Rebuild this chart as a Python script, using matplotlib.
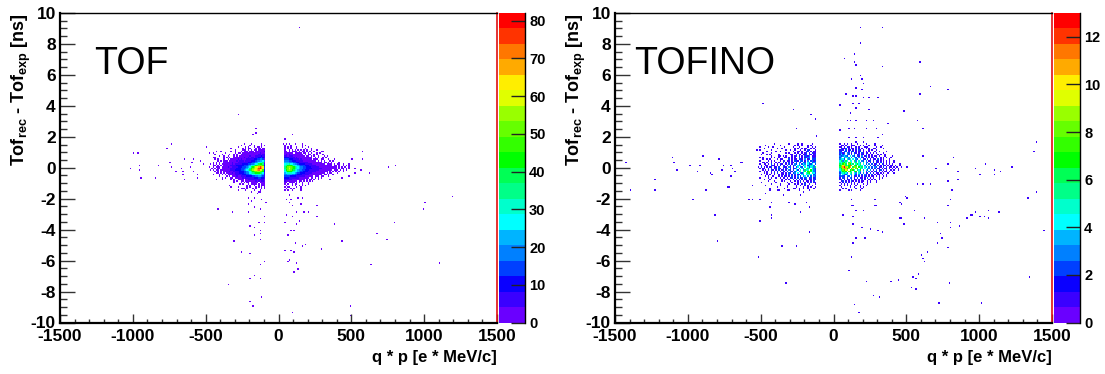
"""
TOF and TOFINO time difference versus charge * momentum, ROOT style colz panels.
Cell values are read off the picture in units of one colour band (1-20).
"""

import numpy as np
import matplotlib
matplotlib.use('Agg')
import matplotlib.pyplot as plt
from matplotlib.colors import ListedColormap, BoundaryNorm
from matplotlib.ticker import MultipleLocator

plt.rcParams['font.family'] = ['Liberation Sans', 'DejaVu Sans']
plt.rcParams['mathtext.fontset'] = 'custom'
plt.rcParams['mathtext.bf'] = 'Liberation Sans:bold'
plt.rcParams['mathtext.rm'] = 'Liberation Sans:bold'
plt.rcParams['axes.unicode_minus'] = False

# =============================================================================
# Data
# =============================================================================
palette = ['#6a00ff', '#3a00ff', '#0a00ff', '#0040ff', '#0080ff',
           '#00b4ff', '#00ffff', '#00ffcc', '#00ff88', '#00ff55',
           '#00ff00', '#33ff00', '#66ff00', '#99ff00', '#e0ff00',
           '#ffee00', '#ffaa00', '#ff7700', '#ff3300', '#ff0000']

core_t = [1.5, 1.4, 1.3, 1.2, 1.1, 1.0, 0.9, 0.8, 0.7, 0.6, 0.5, 0.4, 0.3, 0.2, 0.1, 0.0,
          -0.1, -0.2, -0.3, -0.4, -0.5, -0.6, -0.7, -0.8, -0.9, -1.0, -1.1, -1.2,
          -1.3, -1.4, -1.5]

# rows are right aligned on the inner edge of the lobe for q*p < 0,
# left aligned on it for q*p > 0. '.' = empty, digits in base 36 = colour band
tof_left_edge = -90
tof_left = [
    '..............................1......1..',
    '.......................1.....1..1....1.1',
    '.....................1....1.1...1.11.1..',
    '................1.......1.1.11...1.11.11',
    '...................1....111.1.1.11.11111',
    '.........1......1..1...1.111.111.1111112',
    '.....1.......1......1.11.1111111111112111',
    '...1....1....1..1.1..11111111111122122',
    '.......1..1..1...1.1.111111121112222322',
    '....11.....1.1.1..1111111211212212233432',
    '....1.1...1..1.111112121112222233445541',
    '......1.1.111.1111121222122223334556675',
    '...1.1.1..11111121112222222333445678891',
    '.1.1.1.1.1111111212222233334455678abb92',
    '...11.1.1.1111122223333344456789bcdddc3',
    '1..1.111.11112112222333444567abdfghjhg4',
    '..1.1.11.11111122223334445679bdefhjkig4',
    '.1.1.11.11111112223333445678acefghigfc3',
    '...1.1.1.11112112222333445679bcdeedcb3',
    '....11.1.1.1111212223334455789abbba972',
    '..1...1.1.1.11111222223334456778887662',
    '.....1....1.1.11121122223333445566542',
    '.......1.1...11.111112122222233344332',
    '........1.....1.1..1111.11222222222221',
    '................1.1..11.11111112121221',
    '................1....1.1.11.11111.1111',
    '.....................1.1...1.1111.1.111',
    '..........................1.1..1..1.111',
    '....................1.....1.1...1.1.1.1',
    '........................1.1...1.1...1.1',
    '.........................1.....1...1...',
]
tof_right_edge = 40
tof_right = [
    '.1.....1....1',
    '1...1.......1.1',
    '1.1.1...1...1...1',
    '1.1.1...1.....1...1',
    '1..1.1.1.1.1.1.1..1...1',
    '11.1.1111.1.11.1.1..1....1',
    '111111.11111.11.1.1...1.1',
    '1212111111111.1.11..1.1...1',
    '22122211111111.11.1.1..1...1.1',
    '3332222121111111111..1.1..1.1',
    '4443332222121111111.111..11...1',
    '5554433322222111111111.1.1.1...1.1',
    '66655544332222221111111111.11.1.1....1',
    '7889776554333322222111111111.1111.1.11..1...1',
    '89bbba877654443332222211111111111.11.1..1.1.1',
    '9bdedcb98765544333222222111111111111.1.1.1..1',
    '9cdfdcb98765544333322222221111111111.1.11.1.1...1',
    '8bdedba87655443332222222111111111.111.1.1.1',
    '79bbb9877654433322222211111111.1.1.1.1..1',
    '6788877654433322222111111111.1.11...1',
    '55666554433322222111111111.11.1..1',
    '44443333222222111111.111.11...1',
    '33322222221111111.11.1.1.1',
    '22222111111111.1.11.1..1',
    '211111111.11.1.1.1.1',
    '11.1111.1.1.1...1',
    '1.1..1.11...1...1',
    '.1...1.1..1.1.1',
    '1.1.....1..1',
    '.1..1.1....1',
    '1....1.....1',
]
tofino_left_edge = -120
tofino_left = [
    '...........2.........2.....2..2......2..',
    '.....2.........2.........2....2...2.2...',
    '.2........2.......2.....2...2.....2..2.2',
    '....2........2..2........2.2..2.2...2.2.',
    '.2.......2.........2..2..2...2..2.42...2',
    '......2.....2..2........2..22.2..24.2.22',
    '...2.....2.........2.2...2.2..2.24.2.422',
    '..2...2.2.....2.......22..2.42.224.42.24',
    '.........2....22.2.2...2.24.2.2.4425.222',
    '.2.2.....2.2..2...22.2.2.2..4.2.2455.424',
    '...2..2.2....2.22....4.2.22.442.5.24.444',
    '.2.....2.2.2...2.24.22.2.442.54.2.5.4524',
    '...22.2..2..2.2..4.2.4.22.4.52.54.75.455',
    '.2..22.2.4.2.2.42..2.4.2.54.5.475.7447.4',
    '..2..22..422.2.2.44.4.2.45.757.57.45875.',
    '2.4.2.2.24.22.4..422.54.2.47.54.8.74785a',
    '.2.22..4.2.24.42.2.45.4.247.5.75.8a7.854',
    '...2.2.2.42.2.4.24.2.52.4.74.8.5a78.b754',
    '.2..2.2..2.4.2.2.42.4.52.47.58.7a.bda754',
    '....2.2..2.2.4..22.2.42.45.7.548.7ab.874',
    '..2...2.2..2..2.22.2.4.2.4.24.75.8787.45',
    '.....2.2..2...2.2.42.2.4.2.5.4.57.5.4.54',
    '.2.....2.2..2..2.22.2.24.2.4.24.45.24.24',
    '....2...2.......2..2.2..2.4.2.2.24.22.42',
    '.......2...2....2.2...2..2.2.4.2.22.2.4.',
    '..2.........2.......2..2...2.2..2.2.4.22',
    '.........2.....2.....2...2.2..2.4..2...2',
    '.....2.........2....2.....2..2..2.2..2..',
    '.............2......2.....2....2..2.2..2',
    '........2.........2.....2...2.....2...2.',
    '.............2......2.......2......2....',
]
tofino_right_edge = 40
tofino_right = [
    '2..2.2..2...2.....2.....2',
    '.22.2...2.2...2.2...2...2....2',
    '22.2.42.2..2.2...2.2.....2..2',
    '.4.24.2.22.4.2.2..2.2...2.....2',
    '242.4.24.2.2.42.2...2.2..2',
    '42.54.2.44.2.24.2.2.2...2..2....2',
    '4524.54.2.42.2.42.22.2.2.2....2',
    '2745.54.4.5.24.22.4.2.2...2.2..2',
    '545754.7.54.42.5.24.2.2.22.2...2....2',
    '47.5875.5.74.5.42.4.2.24.2..2.2.2..2',
    '5874.858.7.54.7.42.4.2.22.4.2.2...2',
    '7a58a7.87.a5.8.54.5.24.2.42.2.2.2.2..2',
    '87ab8.ae8.7a.75.8.54.2.4.22.4.2.2.2..2',
    'a8bea.db7a.8b7a.7.4.5.4.24.2.42.2.2.2....2',
    'bdgea7bjd.ab.8a7.5.8.4.52.4.2.42.2.22.2..2',
    'adhkegbh.aed.b8a.75.5.4.54.22.4.2.22.2.2..2...2',
    '8beihbe.ag.db.a8.7.85.4.4.24.2.24.2.2.2.2',
    '7adbge.bdb8.a7b.5.74.5.2.4.24.2.2..2.2..2',
    '58bab.db7.ab.85.7.4.5.2.42.4.2.22.2.2',
    '478a75.8a.75.84.5.24.4.2.22.2.2..2...2',
    '5.7547.75.84.5.4.52.2.4.2.22.2..2',
    '4542.54.5.42.4.2.42.2.22.2.2..2.2',
    '2.44.2.54.2.4.22.2.4.2.2...2.2',
    '42.2.42.4.22.2.4.2..2.2.2..2',
    '.24.2.2.42.2.2.22..2.2...2',
    '2.2.4.2.2.2..2.2...2.2...2',
    '.2.2.2..2.2.2...2..2',
    '2..2.2.2...2..2...2',
    '.2.....2..2...2.2',
    '..2.2......2...2',
    '2.....2.2.....2',
]

# single isolated cells, (q*p, tof difference)
tof_p = [-340, -420, -320, -210, -280, -250, -185, -125, -145, -165, -210, -185,
         -115, -210, -90, -125, -165, -100, -135, -100, -200, -165, -130, -130,
         -165, -130, -310, -260, -200, -100, -130, -165, -200, -130, -350, -120,
         -200, -180, 50, 75, 160, 65, 75, 50, 80, 130, 160, 70, 95, 150, 265, 125,
         170, 205, 50, 95, 265, 140, 40, 125, 380, 80, 105, 60, 110, 180, 165, 290,
         40, 80, 105, 70, 60, 125, 130, 105, 95, 490, 495, 795, 675, 745, 430, 635,
         1105, 990, 1000, 1195, -272, -158, -158, -180, 95, 42, -235, 35, 70, -738,
         -770, -495, -1000, -968, -960, -1015, -960, -950, -850, -825, -750, -740,
         -710, -665, -660, -655, -650, -645, -600, -585, -610, -590, -560, -560,
         -540, -520, -480, -430, -430, 570, 570, 505, 800, 750, 620, 560, 520, 480,
         430, 355, 300, 380, 142, -330, -255, -135]
tof_t = [-1.2, -2.7, -2.9, -2.9, -1.45, -1.4, -1.6, -1.6, -1.65, -1.95, -1.95, -2.15,
         -2.1, -2.35, -2.3, -2.65, -2.6, -3.15, -3.6, -3.55, -3.75, -3.9, -4.05, -4.3,
         -4.35, -4.65, -4.75, -5.45, -5.6, -6.1, -6.3, -7.0, -7.15, -7.15, -7.6, -8.4,
         -8.7, -8.95, -1.2, -1.3, -1.2, -1.45, -1.8, -2.05, -2.1, -1.95, -1.95, -2.25,
         -2.45, -2.35, -2.45, -2.85, -2.85, -2.85, -3.1, -3.15, -3.15, -3.45, -3.55,
         -3.7, -3.7, -4.05, -4.05, -4.35, -4.85, -4.95, -5.1, -5.3, -5.4, -5.4, -5.45,
         -6.0, -6.1, -6.2, -6.55, -6.8, -9.4, -8.95, -9.6, -3.55, -4.3, -4.65, -4.75,
         -6.3, -6.2, -2.65, -2.25, -1.85, 3.46, 2.53, 2.2, 2.1, 2.1, 1.8, 1.5, 1.5, 1.5,
         1.5, 1.2, 1.3, 0.9, 0.9, 0.15, -0.05, -0.15, -0.65, -0.65, 0.15, 0.35, 0.0,
         -0.25, -0.1, -0.25, -0.45, -0.8, 0.55, 0.35, 0.55, 0.0, -0.25, -0.45, -0.7,
         0.45, 0.25, 0.95, 1.05, -0.8, 1.0, 0.55, 0.55, 0.15, 0.0, -0.35, -0.15, -0.35,
         -0.55, -0.7, -0.8, 1.05, 0.55, 9.0, -1.3, -1.4, -1.6]

tofino_p = [-1230, -720, -820, -800, -505, -510, -360, -260, -520, -325, -430, -430,
            -225, -165, -435, -430, -305, -270, -165, -185, -585, -560, -510, -465,
            -345, -230, -205, -265, -205, -380, -435, -310, -560, 60, 130, 130, 190,
            255, 300, 330, 480, 460, 620, 715, 805, 805, 860, 915, 950, 975, 1005,
            1030, 1065, 1065, 1130, 1335, 1395, 1445, 785, 805, 815, 550, 460, 295,
            130, 150, 205, 120, 280, 505, 730, 745, 715, 785, 150, 215, 130, 645, 600,
            615, 620, 125, 105, 580, 540, 560, 220, 395, 440, 795, 1345, 535, 560, 275,
            310, 140, 170, 720, 1010, 182, 141, 72, 141, 159, 331, 590, 182, 198, 123,
            205, 159, 198, 663, 782, 82, 132, 159, 200, 242, 308, 599, 137, 178, -481,
            40, 159, -271, 484, 240, 114, -156, -129, 91, 118, 159, 221, 278, 571, 372,
            -259, 40, 102, 141, 221, 292, 612, -120, 109, 159, 205, 331, 308, 159, 137,
            205, -248, -447, -188, -527, 228, 125, 68, 274, 182, 331, -1400, -1225,
            -1108, -1095, -1080, -985, -937, -916, -835, -765, -710, -675, -640, -1430,
            -965, -880, -900, -790, -847, -756, -700, -630, -710, -820, -722, -573,
            -504, 612, 704, 789, 857, 823, 972, 1040, 1109, 1109, 1001, 789, 857, 667,
            617, 571, 491, 457, 782, 1063, 1001, 949, 1132, 457, 622, 285, 285, 125,
            125, 205, 68, 1397, 1376, 1225, 1143]
tofino_t = [-1.45, -1.25, -3.1, -4.75, -3.5, -3.45, -5.1, -5.1, -5.75, -7.5, -3.1, -3.25,
            -2.85, -4.15, -2.55, -2.3, -2.3, -2.35, -2.55, -2.25, -2.05, -2.05, -2.05,
            -1.7, -1.75, -1.8, -1.6, -1.35, -1.35, -1.45, -1.45, -1.45, -1.2, -3.1, -3.2,
            -3.7, -3.9, -4.0, -4.05, -4.15, -3.7, -3.25, -3.25, -3.55, -3.55, -3.9, -3.75,
            -3.25, -3.1, -2.9, -3.2, -3.15, -3.25, -2.8, -2.85, -1.95, -1.6, -4.05, -2.45,
            -2.05, -1.45, -2.8, -2.35, -2.45, -2.45, -2.8, -2.8, -2.05, -2.1, -1.95, -4.3,
            -4.55, -4.85, -5.2, -4.55, -4.55, -4.85, -5.45, -5.65, -5.9, -6.1, -5.75,
            -6.65, -6.9, -7.1, -7.2, -7.4, -7.4, -7.3, -7.5, -7.1, -7.8, -7.9, -8.3, -8.4,
            -8.9, -9.4, -8.8, -8.8, 8.0, 7.3, 7.0, 6.8, 6.65, 6.55, 6.8, 5.9, 5.75, 5.75,
            5.4, 5.1, 5.0, 5.2, 5.0, 4.7, 4.6, 4.6, 4.5, 4.5, 4.5, 4.7, 4.15, 4.15, 4.15,
            4.0, 3.85, 3.75, 3.6, 3.7, 3.55, 3.4, 3.15, 3.05, 3.0, 3.05, 3.05, 3.05, 3.05,
            2.85, 2.55, 2.45, 2.55, 2.55, 2.55, 2.55, 2.55, 2.05, 1.95, 1.95, 1.9, 2.15,
            1.95, 1.65, 1.45, 1.65, 1.45, 1.3, 1.25, 1.15, 1.35, 1.25, 1.25, 1.25, 9.05,
            9.0, -1.5, -0.75, 0.6, 0.3, -0.2, 0.15, -0.3, 0.15, -0.5, -0.15, 0.15, -0.3,
            0.35, 0.35, -2.1, -1.45, 0.75, 0.55, -0.35, 0.1, -0.05, 0.3, -0.6, -3.05,
            -1.24, -2.05, -2.05, 0.7, -0.1, 0.25, -0.27, 0.65, -0.05, 0.25, -0.15, -0.45,
            -0.45, -0.87, -0.8, -1.07, -1.07, -1.07, -1.9, -2.3, -2.47, -2.75, -3.2, -3.1,
            -2.85, -3.25, -3.25, -2.47, -2.1, -2.1, -2.47, -2.75, -3.07, 1.65, 1.07, 0.03,
            -0.3]

tof_max = 82.0
tofino_max = 13.0
tof_single_band = 1
tofino_single_band = 2
tof_cticks = [0, 10, 20, 30, 40, 50, 60, 70, 80]
tofino_cticks = [0, 2, 4, 6, 8, 10, 12]


def build_grid(left, left_edge, right, right_edge, out_p, out_t, single_band, vmax):
    """Fill the 300 x 200 histogram from the band rows and single cells."""
    grid = np.full((200, 300), np.nan)
    band_w = vmax / 20.0

    def put(p, t, band):
        ix = int(np.floor((p + 1500) / 10.0 + 1e-6))
        iy = int(np.floor((t + 10) / 0.1 + 1e-6))
        if 0 <= ix < 300 and 0 <= iy < 200:
            grid[iy, ix] = (band - 0.5) * band_w

    for p, t in zip(out_p, out_t):
        put(p, t, single_band)
    for t, row in zip(core_t, left):
        for i, ch in enumerate(reversed(row)):
            if ch != '.':
                put(left_edge - 10 * (i + 1), t, int(ch, 36))
    for t, row in zip(core_t, right):
        for i, ch in enumerate(row):
            if ch != '.':
                put(right_edge + 10 * i, t, int(ch, 36))
    return grid


def draw_panel(x0, grid, vmax, cticks, name, name_x):
    W, H = 1105.0, 374.0
    ax = fig.add_axes([x0 / W, (H - 322.5) / H, 437 / W, 309.5 / H])
    cax = fig.add_axes([(x0 + 439) / W, (H - 322.5) / H, 26 / W, 309.5 / H])

    cmap = ListedColormap(palette)
    bounds = np.linspace(0, vmax, 21)
    norm = BoundaryNorm(bounds, cmap.N)
    xedges = np.linspace(-1500, 1500, 301)
    yedges = np.linspace(-10, 10, 201)
    mesh = ax.pcolormesh(xedges, yedges, np.ma.masked_invalid(grid), cmap=cmap,
                         norm=norm, linewidth=0, rasterized=True)

    ax.set_xlim(-1500, 1500)
    ax.set_ylim(-10, 10)
    ax.xaxis.set_major_locator(MultipleLocator(500))
    ax.xaxis.set_minor_locator(MultipleLocator(100))
    ax.yaxis.set_major_locator(MultipleLocator(2))
    ax.yaxis.set_minor_locator(MultipleLocator(0.5))
    ax.tick_params(axis='x', which='major', direction='in', length=6.5, width=1.0,
                   color='#333333', pad=5, labelsize=12.5)
    ax.tick_params(axis='x', which='minor', direction='in', length=3.2, width=1.0,
                   color='#333333')
    ax.tick_params(axis='y', which='major', direction='in', length=10.5, width=1.0,
                   color='#333333', pad=3, labelsize=12.5)
    ax.tick_params(axis='y', which='minor', direction='in', length=5.2, width=1.0,
                   color='#333333')
    for lab in ax.get_xticklabels() + ax.get_yticklabels():
        lab.set_fontweight('bold')
    ax.spines['left'].set_linewidth(1.6)
    ax.spines['bottom'].set_linewidth(1.6)
    ax.spines['top'].set_linewidth(1.0)
    ax.spines['right'].set_linewidth(1.2)
    ax.spines['right'].set_color('#e01010')

    ax.set_xlabel('q * p [e * MeV/c]', fontsize=12, fontweight='bold', loc='right',
                  labelpad=4)
    ax.set_ylabel(r'Tof$_{\mathbf{rec}}$ - Tof$_{\mathbf{exp}}$ [ns]', fontsize=13,
                  fontweight='bold', loc='top')
    ax.yaxis.set_label_coords(-0.062, 1.0)

    fig.text(name_x / W, (H - 74) / H, name, fontsize=27, color='black',
             ha='left', va='baseline')

    cbar = fig.colorbar(mesh, cax=cax, ticks=cticks, spacing='proportional')
    cbar.minorticks_off()
    cbar.ax.tick_params(which='major', direction='in', length=10, width=1.0,
                        color='#222222', pad=3, labelsize=10.5, right=True, left=False)
    for lab in cbar.ax.get_yticklabels():
        lab.set_fontweight('bold')
    cbar.outline.set_visible(False)
    cbar.ax.plot([1, 1], [0, 1], transform=cbar.ax.transAxes, color='black',
                 lw=1.0, clip_on=False)
    return ax


fig = plt.figure(figsize=(11.05, 3.74), dpi=100)

tof_grid = build_grid(tof_left, tof_left_edge, tof_right, tof_right_edge,
                      tof_p, tof_t, tof_single_band, tof_max)
tofino_grid = build_grid(tofino_left, tofino_left_edge, tofino_right, tofino_right_edge,
                         tofino_p, tofino_t, tofino_single_band, tofino_max)

draw_panel(60, tof_grid, tof_max, tof_cticks, 'TOF', 94)
draw_panel(615, tofino_grid, tofino_max, tofino_cticks, 'TOFINO', 634)

fig.savefig('out.png', dpi=100)
